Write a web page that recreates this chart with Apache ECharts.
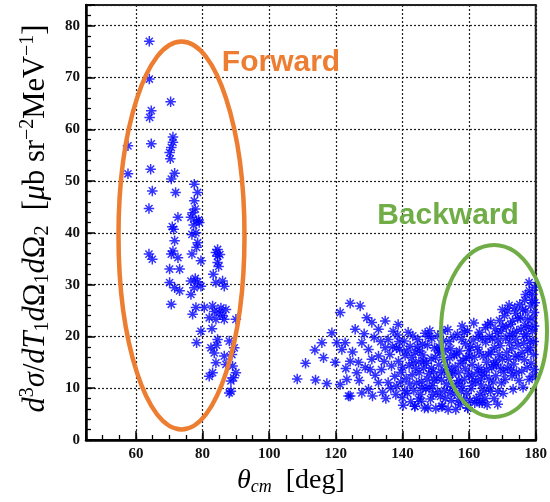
<!DOCTYPE html>
<html>
<head>
<meta charset="utf-8">
<script src="https://cdn.jsdelivr.net/npm/echarts@6/dist/echarts.min.js"></script>
<style>html,body{margin:0;padding:0;background:#fff}#c{width:550px;height:502px}</style>
</head>
<body>
<div id="c"></div>
<script>
// x ticks (deg) and y ticks
const xTickLabels = [60, 80, 100, 120, 140, 160, 180];
const yTickLabels = [0, 10, 20, 30, 40, 50, 60, 70, 80];

// Forward-angle points [theta_cm (deg), d3sigma]
const forwardPoints = [
  [64,77],[64,69.7],[70.4,65.3],[64.6,63.6],[64.1,62.3],[57.6,56.8],[64.6,57.2],[71.1,58.5],[71.1,57.5],[70.6,56.5],
  [70.1,55.5],[70.3,54.3],[57.6,51.4],[64.4,52.3],[71.6,51.5],[70.6,50.4],[64.9,48.1],[77.5,49.4],[78.5,47.8],[77.5,46.2],
  [77.8,44.6],[71.9,47.8],[63.9,44.7],[72.6,43],[76.5,43],[78.2,42.3],[79,42],[70.9,41.2],[77,43.9],[78.8,42.5],
  [71.3,40.7],[71.6,38.5],[71.1,36.5],[76.8,39.7],[78.5,38.1],[78.2,37.2],[76.8,35.9],[79.5,34.6],[70.6,35.9],[72.6,35.2],
  [70.1,33],[73.1,33],[63.9,35.9],[64.9,34.9],[84.5,36.8],[84.5,35.5],[84.5,34.3],[84,36.2],[83.2,32],[86,30.7],
  [84,30.4],[86.5,29.7],[76.5,30.7],[77.5,29.4],[79.5,29.7],[76.5,28.1],[70.1,30.4],[71.6,29.4],[73.1,28.8],[70.6,26.2],
  [77,24.3],[78,25.6],[80.5,25.6],[83,25.9],[82,23.6],[85,24.6],[87,25.2],[86.5,23.3],[90,23.3],[84,23.3],
  [79.5,21],[78.2,18.8],[82.5,17.8],[84.5,19.4],[88,19.1],[89.5,17.8],[86.5,16.2],[84,14.9],[82,12.3],[83,13],
  [87,14.6],[89,14.3],[90,13],[88.5,11.4],[88.5,9.4],[88,9.1],[85.5,25.5],[86,24],[83.5,24.8],[78.5,30.5],
  [77.8,31.2],[84.8,33.5],[85.2,35.8],[82.8,21.5],[78,40],[77.3,41.5],[88.8,16.5],[89.3,12],[83.5,16.8],[84.2,18.3]
];

// Backward-angle points [theta_cm (deg), d3sigma]
const backwardPoints = [
  [108.4,11.8],[110.9,14.8],[113.9,11.6],[117.3,10.9],[113.7,17.4],[116.3,15.9],[115.8,18.8],[118.8,20.7],[120.3,18.8],[119.8,15],
  [121.8,17.5],[122.8,18.8],[121.3,24.6],[124.3,26.4],[127.3,25.9],[125.8,21.4],[129.3,23.6],[130.8,22.7],[132.8,21.4],[134.8,23],
  [137.2,21],[138.7,22.3],[135.7,19.4],[124.3,15.2],[126.8,15],[126.3,13],[130.3,13.6],[123.3,11.7],[121.3,10.7],[127.8,18.8],
  [129.8,17.5],[132.8,16.2],[134.8,17.8],[130.8,15.6],[133.7,13.6],[136.7,14.3],[137.7,12.3],[135.7,11.1],[132.8,11.1],[129.8,9.8],
  [127.8,9.1],[124.3,8.5],[123.8,8.5],[131,8.5],[134,9.2],[128.5,20.5],[131.5,19.8],[133.5,19],[136.2,16.5],[137,18],
  [131.8,12.5],[134.5,15.2],[128.8,14],[125,17],[123,13.8],[127,11.5],[135,8],[136.5,10],[138,8.8],
  [138.5,20.3],[139.2,17.5],[138.8,15.2],[139.6,13.1],[138.3,10.4],[139.9,8.2],[140.5,19.1],[140.8,16.3],[141.1,11.9],[140.2,6.7],
  [141.7,20.8],[142.3,18.1],[142,14.4],[142.9,12.6],[143.4,9.6],[142.5,7.4],[143.8,16.9],[143.1,20.1],[144,13.8],[143.7,6.5],
  [144.6,19.4],[145.2,17.2],[144.9,15.1],[145.7,11.3],[145.4,8.8],[146.3,13.9],[146.8,20.6],[146.1,16.4],[147,9.9],[145.7,7.5],
  [146.6,6.2],[147.5,18.3],[148.2,21.1],[148.6,15.7],[147.9,12.8],[149,10.5],[148.4,7.9],[149.6,17.8],[149.3,13.2],[150,6.1],
  [148.8,19.6],[150.6,20.2],[151.2,16.8],[150.9,14.5],[151.7,11.6],[151.4,8.4],[152.3,19.1],[152,6.5],[152.7,13.5],[153,17.4],
  [152.6,9.6],[153.6,21.3],[154.2,15.9],[153.9,12.1],[154.7,7.6],[155.3,19.8],[155,10.3],[155.8,14.1],[154.5,17.6],[156,5.9],
  [155.6,8.9],[156.5,20.4],[157.1,17.2],[156.8,13],[157.6,9.5],[158.2,15.4],[157.9,22],[158.6,11.7],[158.9,18.6],[157.3,6.8],
  [158.4,7.9],[159.5,21.1],[160.1,16.2],[159.8,12.8],[160.6,9.9],[161.2,19.3],[160.9,14.6],[161.7,7.2],[161.4,22.6],[162,11.4],
  [159.6,6.2],[162.5,17.9],[163.1,20.8],[162.8,14],[163.6,10.6],[164.2,16.2],[163.9,7.2],[164.6,12.5],[164.9,21.7],[165,18.9],
  [163.3,8.8],[165.6,22.3],[166.5,22.7],[166.1,20],[165.8,16.5],[166.8,13.9],[167.2,11.2],[166.4,9.4],[167.6,17.8],[167.9,15.3],
  [168.6,6.9],[168.6,9.4],[165.4,6.8],[168.4,20.6],[169.1,23.1],[169.6,21],[169.3,18.2],[170,15.6],[170.4,13.1],[169.7,11],
  [170.6,24],[171,19.6],[171.3,16.9],[171.6,24.9],[172.5,22.3],[172.1,20.2],[172.8,17.6],[173.4,14.7],[172.9,12.4],[173.7,25.5],
  [174,19.4],[173.2,9.8],[174.6,23.5],[175.2,26.2],[175.6,21.4],[174.9,16.1],[176.1,25.2],[176.4,18.7],[175.8,13.3],[176.8,22.1],
  [176.2,10.2],[177,28.1],[178,30.4],[177.5,23.3],[178.5,25.9],[179,28.1],[179.5,24.6],[179.5,22],[179,21],[178.2,19.2],
  [179.3,16.5],[178.6,14.8],[179,12.3],[179.5,13.6],[178,11.7],[177.6,17.3],[163.1,7.2],[159.6,6.2],[153.7,5.9],[151.7,6.5],
  [147.7,6.2],[143.7,6.5],[139,19],[140,14],[141.5,9],[142.8,16],[144.2,11],[145,13],[146,18.5],[147.2,14.8],
  [148,10],[149.2,8.8],[150.3,12],[151,18],[152.5,15.5],[153.3,10.8],[154,19],[155,12.8],[156.2,16.6],[157,11.5],
  [157.8,19.4],[158.8,13.8],[159.3,9],[160.5,18],[161,11],[162.2,8],[162.8,20],[163.8,13.2],[164.5,9.5],[165.3,15],
  [166,11.8],[167,19.5],[167.5,8],[168.2,14.5],[169,16.5],[170.2,9],[171.5,14],[172.2,18.8],[173,23],[174.3,21],
  [175,11.5],[176.6,15.5],[177.2,20.5],[178.8,27],[179.6,29.5],
  [138.2,17.8],[139.5,11.2],[140.7,9.5],[141.3,17.2],[142.2,10.8],[143.2,14.9],[144.4,18],[144.8,7.9],[145.9,10.1],[146.4,15.3],
  [147.4,11.7],[147.8,20],[148.7,13.9],[149.5,11.5],[149.9,15.9],[150.5,9.3],[150.8,17.2],[151.6,13],[152.1,21],[152.9,8],
  [153.5,14.3],[154.3,9.2],[154.8,13.4],[155.5,16.4],[156.3,10.9],[156.7,7.6],[157.4,14.8],[158,10.4],[158.5,20.8],[159.1,15.8],
  [159.9,17.3],[160.3,7.6],[160.8,12.3],[161.6,16],[162.4,13.1],[163,17],[163.5,11.8],[164,19.6],[164.8,8],[165.2,13.6],
  [165.9,10.2],[166.6,17],[167.3,14.6],[167.8,21.5],[168,12.4],[168.8,19.3],[169.5,13.8],[170.1,22],[170.8,11.7],[171.2,21.8],
  [171.8,15.6],[172.6,13.5],[173.1,20.6],[173.8,16.2],[174.2,13],[174.7,18.3],[175.4,23.6],[175.9,16.9],[176.5,20],[177,24.9],
  [177.4,14],[177.9,21.8],[178.4,17.8],[178.9,23.4],[179.4,19],[179.7,26.5],[178.1,28.8],[176.7,27],[174,24.5],[172,26],[170,25.2]
];

const asterisk = 'path://M0,5L10,5M5,0L5,10M1.6,1.6L8.4,8.4M8.4,1.6L1.6,8.4';
const serif = '"Liberation Serif", "DejaVu Serif", serif';

const chart = echarts.init(document.getElementById('c'), null, {renderer: 'canvas'});

const markStyle = {color: '#0000ff', borderColor: '#0000ff', borderWidth: 1.5};

const yName = '{i|d}{sup|3}{i|σ}{n|/}{i|dT}{sub|1}{i|d}{n|Ω}{sub|1}{i|d}{n|Ω}{sub|2}{n|  [}{i|μ}{n|b sr}{sup|−2}{n|MeV}{sup|−1}{n|]}';
const xName = '{i|θ}{subi|cm}{n|  [deg]}';

const richY = {
  i: {fontFamily: serif, fontStyle: 'italic', fontSize: 30.5, lineHeight: 35, color: '#000'},
  n: {fontFamily: serif, fontSize: 30.5, lineHeight: 35, color: '#000'},
  sup: {fontFamily: serif, fontSize: 20, lineHeight: 19, verticalAlign: 'top', color: '#000'},
  sub: {fontFamily: serif, fontSize: 20, lineHeight: 19, verticalAlign: 'bottom', color: '#000'}
};
const richX = {
  i: {fontFamily: serif, fontStyle: 'italic', fontSize: 28, lineHeight: 30, color: '#000'},
  n: {fontFamily: serif, fontSize: 28, lineHeight: 30, color: '#000'},
  subi: {fontFamily: serif, fontStyle: 'italic', fontSize: 18, lineHeight: 17, verticalAlign: 'bottom', color: '#000'}
};

const tickLabelStyle = {fontFamily: serif, fontWeight: 'bold', fontSize: 15, color: '#111'};

const option = {
  animation: false,
  grid: {left: 86, right: 11, top: 5, bottom: 62, show: true, borderColor: '#222', borderWidth: 2, backgroundColor: '#fff'},
  xAxis: [
    {
      type: 'value', min: 45, max: 180, splitNumber: 7, minInterval: 20, maxInterval: 20,
      axisLine: {show: true, onZero: false, lineStyle: {color: '#000', width: 2.5}},
      axisTick: {show: true, inside: true, length: 9, lineStyle: {color: '#000', width: 1.5}},
      axisLabel: Object.assign({margin: 7, formatter: v => xTickLabels.includes(v) ? String(v) : ''}, tickLabelStyle),
      splitLine: {show: true, lineStyle: {color: '#222', type: [2, 2], width: 1.2}},
      name: xName, nameLocation: 'middle', nameGap: 24,
      nameTextStyle: {rich: richX, padding: [0, 40, 0, 0]}
    },
    {
      type: 'value', min: 45, max: 180, interval: 5, position: 'bottom',
      axisLine: {show: false}, axisLabel: {show: false}, splitLine: {show: false},
      axisTick: {show: true, inside: true, length: 5, lineStyle: {color: '#000', width: 1.3}}
    }
  ],
  yAxis: [
    {
      type: 'value', min: 0, max: 84, interval: 10,
      axisLine: {show: true, onZero: false, lineStyle: {color: '#000', width: 2.5}},
      axisTick: {show: true, inside: true, length: 9, lineStyle: {color: '#000', width: 1.5}},
      axisLabel: Object.assign({margin: 6, formatter: v => yTickLabels.includes(v) ? String(v) : ''}, tickLabelStyle),
      splitLine: {show: true, lineStyle: {color: '#222', type: [2, 2], width: 1.2}},
      name: yName, nameLocation: 'middle', nameGap: 33,
      nameTextStyle: {rich: richY, padding: [0, 0, 0, 8]}
    },
    {
      type: 'value', min: 0, max: 84, interval: 2, position: 'left',
      axisLine: {show: false}, axisLabel: {show: false}, splitLine: {show: false},
      axisTick: {show: true, inside: true, length: 5, lineStyle: {color: '#000', width: 1.3}}
    }
  ],
  series: [
    {type: 'scatter', name: 'forward', data: forwardPoints, symbol: asterisk, symbolSize: 10.5,
     itemStyle: markStyle, emphasis: {disabled: true}, z: 3},
    {type: 'scatter', name: 'backward', data: backwardPoints, symbol: asterisk, symbolSize: 10.5,
     itemStyle: markStyle, emphasis: {disabled: true}, z: 3}
  ],
  graphic: [
    {type: 'ellipse', shape: {cx: 181.5, cy: 235.5, rx: 63, ry: 194}, z: 100,
     style: {fill: 'none', stroke: '#ED7D31', lineWidth: 4.5}},
    {type: 'ellipse', shape: {cx: 494, cy: 331, rx: 53, ry: 86}, z: 100,
     style: {fill: 'none', stroke: '#70AD47', lineWidth: 4}},
    {type: 'text', x: 281, y: 63, z: 100,
     style: {text: 'Forward', font: 'bold 30px "Liberation Sans", Arial, sans-serif', fill: '#ED7D31', textAlign: 'center', textVerticalAlign: 'middle'}},
    {type: 'text', x: 448, y: 216, z: 100,
     style: {text: 'Backward', font: 'bold 30px "Liberation Sans", Arial, sans-serif', fill: '#70AD47', textAlign: 'center', textVerticalAlign: 'middle'}}
  ]
};
chart.setOption(option);
</script>
</body>
</html>
